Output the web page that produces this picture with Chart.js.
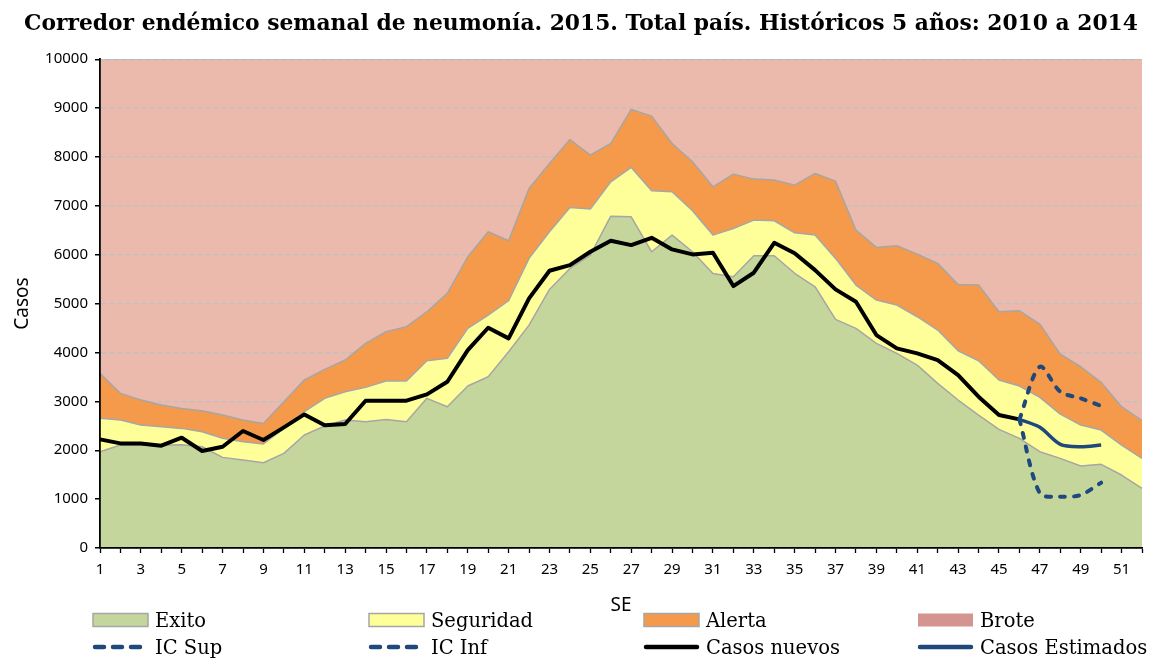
<!DOCTYPE html>
<html>
<head>
<meta charset="utf-8">
<script src="https://cdn.jsdelivr.net/npm/chart.js@4/dist/chart.umd.min.js"></script>
<style>
  html, body { margin: 0; padding: 0; background: #fff; }
  #wrap { position: relative; width: 1155px; height: 659px; }
  #c { position: absolute; left: 0; top: 0; }
  .lg { position: absolute; height: 26px; display: flex; align-items: center;
        font-family: "DejaVu Serif", serif; font-size: 19.5px; color: #000; white-space: nowrap; }
  .lg svg { margin-right: 6px; flex: none; }
</style>
</head>
<body>
<div id="wrap">
  <canvas id="c" width="1155" height="659"></canvas>
</div>
<script>
const weeks = ['1','2','3','4','5','6','7','8','9','10','11','12','13','14','15','16','17','18','19','20',
  '21','22','23','24','25','26','27','28','29','30','31','32','33','34','35','36','37','38','39','40',
  '41','42','43','44','45','46','47','48','49','50','51','52'];

// upper boundaries of each corridor zone
const exito = [1970,2106,2106,2100,2110,2072,1854,1800,1745,1936,2311,2495,2618,2584,2631,2584,3061,2890,3313,3504,
  4015,4560,5290,5719,5992,6789,6776,6060,6401,6060,5617,5549,5978,5978,5620,5344,4677,4492,4185,3981,
  3742,3368,3027,2720,2427,2243,1970,1834,1677,1711,1493,1220];
const seguridad = [2652,2618,2515,2481,2447,2379,2243,2174,2127,2447,2788,3061,3197,3286,3415,3415,3831,3879,4492,4765,
  5058,5924,6469,6967,6933,7492,7785,7307,7287,6898,6401,6537,6708,6694,6448,6401,5924,5379,5072,4969,
  4731,4458,4035,3831,3436,3313,3081,2740,2515,2413,2106,1834];
const alerta = [3572,3163,3027,2924,2856,2808,2720,2618,2549,2993,3436,3654,3845,4185,4424,4527,4833,5208,5958,6469,
  6285,7355,7866,8357,8037,8276,8971,8834,8276,7900,7389,7648,7546,7526,7423,7662,7505,6503,6149,6183,
  6012,5822,5392,5379,4833,4853,4581,3967,3708,3388,2890,2604];
const brote = [10000,10000,10000,10000,10000,10000,10000,10000,10000,10000,10000,10000,10000,10000,10000,10000,10000,10000,10000,10000,
  10000,10000,10000,10000,10000,10000,10000,10000,10000,10000,10000,10000,10000,10000,10000,10000,10000,10000,10000,10000,
  10000,10000,10000,10000,10000,10000,10000,10000,10000,10000,10000,10000];

const casosNuevos = [2222,2140,2140,2093,2256,1984,2072,2393,2209,2468,2733,2509,2536,3013,3013,3013,3142,3401,4049,4506,
  4288,5106,5671,5787,6060,6285,6196,6346,6108,6006,6040,5358,5631,6244,6030,5685,5290,5038,4356,4083,
  3981,3845,3538,3095,2720,2631,null,null,null,null,null,null];
const casosEstimados = [null,null,null,null,null,null,null,null,null,null,null,null,null,null,null,null,null,null,null,null,
  null,null,null,null,null,null,null,null,null,null,null,null,null,null,null,null,null,null,null,null,
  null,null,null,null,null,2631,2468,2120,2072,2106,null,null];
const icSup = [null,null,null,null,null,null,null,null,null,null,null,null,null,null,null,null,null,null,null,null,
  null,null,null,null,null,null,null,null,null,null,null,null,null,null,null,null,null,null,null,null,
  null,null,null,null,null,2631,3708,3197,3061,2904,null,null];
const icInf = [null,null,null,null,null,null,null,null,null,null,null,null,null,null,null,null,null,null,null,null,
  null,null,null,null,null,null,null,null,null,null,null,null,null,null,null,null,null,null,null,null,
  null,null,null,null,null,2631,1118,1050,1084,1336,null,null];

const yMin = 0, yMax = 10000, yStep = 1000;

const GREEN = '#C4D69B', YELLOW = '#FFFF99', ORANGE = '#F59A4B', PINK = '#EBBAAC', PINK_LEG = '#D49590';
const NAVY = '#1F497D', EDGE = '#A6A6A6';

const SANS = '"Noto Sans", "Open Sans", sans-serif';

function build() {
  const datasets = [
    { label: 'Exito', data: exito, fill: 'origin', backgroundColor: GREEN, borderColor: EDGE, borderWidth: 1.5, order: 1, legendType: 'box', legendColor: GREEN, legendEdge: EDGE },
    { label: 'Seguridad', data: seguridad, fill: '-1', backgroundColor: YELLOW, borderColor: EDGE, borderWidth: 1.5, order: 2, legendType: 'box', legendColor: YELLOW, legendEdge: EDGE },
    { label: 'Alerta', data: alerta, fill: '-1', backgroundColor: ORANGE, borderColor: EDGE, borderWidth: 1.5, order: 3, legendType: 'box', legendColor: ORANGE, legendEdge: EDGE },
    { label: 'Brote', data: brote, fill: 'origin', backgroundColor: PINK, borderColor: EDGE, borderWidth: 1.5, order: 4, legendType: 'box', legendColor: PINK_LEG, legendEdge: null },
    { label: 'IC Sup', data: icSup, fill: false, borderColor: NAVY, borderWidth: 4, borderDash: [5, 9], borderCapStyle: 'round', tension: 0.3, order: 0, legendType: 'dash' },
    { label: 'IC Inf', data: icInf, fill: false, borderColor: NAVY, borderWidth: 4, borderDash: [5, 9], borderCapStyle: 'round', tension: 0.3, order: 0, legendType: 'dash' },
    { label: 'Casos nuevos', data: casosNuevos, fill: false, borderColor: '#000', borderWidth: 4, tension: 0, order: 0, legendType: 'line' },
    { label: 'Casos Estimados', data: casosEstimados, fill: false, borderColor: NAVY, borderWidth: 3.5, tension: 0.3, order: 0, legendType: 'line' }
  ];

  // draw the y grid right after the Brote background area so it shows only in the pink zone
  const gridOverBrote = {
    id: 'gridOverBrote',
    afterDatasetDraw(chart, args) {
      if (chart.data.datasets[args.index].label === 'Brote') {
        chart.scales.y.drawGrid(chart.chartArea);
      }
    }
  };

  const tickFont = { family: SANS, size: 15 };

  const chart = new Chart(document.getElementById('c'), {
    type: 'line',
    data: { labels: weeks, datasets },
    plugins: [gridOverBrote],
    options: {
      responsive: false,
      animation: false,
      layout: { padding: { left: 20, right: 13, top: 0, bottom: 38 } },
      elements: { point: { radius: 0, hoverRadius: 0 }, line: { borderJoinStyle: 'round' } },
      plugins: {
        legend: { display: false },
        tooltip: { enabled: false },
        title: {
          display: true,
          text: 'Corredor endémico semanal de neumonía. 2015. Total país. Históricos 5 años: 2010 a 2014',
          color: '#000',
          font: { family: '"DejaVu Serif", serif', size: 21.8, weight: 'bold' },
          padding: { top: 11, bottom: 22 }
        }
      },
      scales: {
        x: {
          type: 'category',
          offset: false,
          grid: { display: true, drawOnChartArea: false, drawTicks: true, tickLength: 5, color: '#000', tickColor: '#000', tickWidth: 1.3 },
          border: { display: true, color: '#000', width: 1.8, z: 1 },
          ticks: {
            autoSkip: false, maxRotation: 0, minRotation: 0, color: '#000', font: tickFont, padding: 8,
            callback: (v, i) => (i % 2 === 0 ? weeks[i] : '')
          },
          title: { display: true, text: 'SE', color: '#000', font: { family: SANS, size: 19 }, padding: { top: 4, bottom: 4 } },
          afterFit(scale) { scale.height = 73; }
        },
        y: {
          min: yMin, max: yMax,
          grid: { display: true, drawOnChartArea: true, drawTicks: true, tickLength: 5, color: '#BDC1C4', lineWidth: 1.3, tickColor: '#000', tickWidth: 1.3, tickBorderDash: [], borderDash: [5, 3] },
          border: { display: true, color: '#000', width: 1.8, dash: [5, 3], z: 1 },
          ticks: { stepSize: yStep, color: '#000', font: tickFont, padding: 7, callback: (v) => String(v) },
          title: { display: true, text: 'Casos', color: '#000', font: { family: SANS, size: 19 }, padding: { top: -9, bottom: 4 } },
          afterFit(scale) { scale.width = 80; }
        }
      }
    }
  });

  // HTML legend built from the datasets (4 columns x 2 rows)
  const wrap = document.getElementById('wrap');
  const colX = [92, 368, 643, 917];
  const rowY = [607, 634];
  chart.data.datasets.forEach((ds, i) => {
    const item = document.createElement('div');
    item.className = 'lg';
    item.style.left = colX[i % 4] + 'px';
    item.style.top = rowY[Math.floor(i / 4)] + 'px';
    let svg;
    if (ds.legendType === 'box') {
      const stroke = ds.legendEdge ? `stroke="${ds.legendEdge}" stroke-width="1.5"` : '';
      svg = `<svg width="57" height="16"><rect x="1" y="1.5" width="55" height="13" fill="${ds.legendColor}" ${stroke}/></svg>`;
    } else if (ds.legendType === 'dash') {
      svg = `<svg width="57" height="16"><line x1="3" y1="8" x2="54" y2="8" stroke="${ds.borderColor}" stroke-width="4.5" stroke-linecap="round" stroke-dasharray="9 9"/></svg>`;
    } else {
      svg = `<svg width="57" height="16"><line x1="3" y1="8" x2="54" y2="8" stroke="${ds.borderColor}" stroke-width="4.5" stroke-linecap="round"/></svg>`;
    }
    item.innerHTML = svg + '<span>' + ds.label + '</span>';
    wrap.appendChild(item);
  });
}

const fontLoads = [
  document.fonts.load('15px "Noto Sans"'),
  document.fonts.load('19px "Noto Sans"'),
  document.fonts.load('bold 22px "DejaVu Serif"'),
  document.fonts.load('19px "DejaVu Serif"')
];
Promise.all(fontLoads).then(build, build);
</script>
</body>
</html>
